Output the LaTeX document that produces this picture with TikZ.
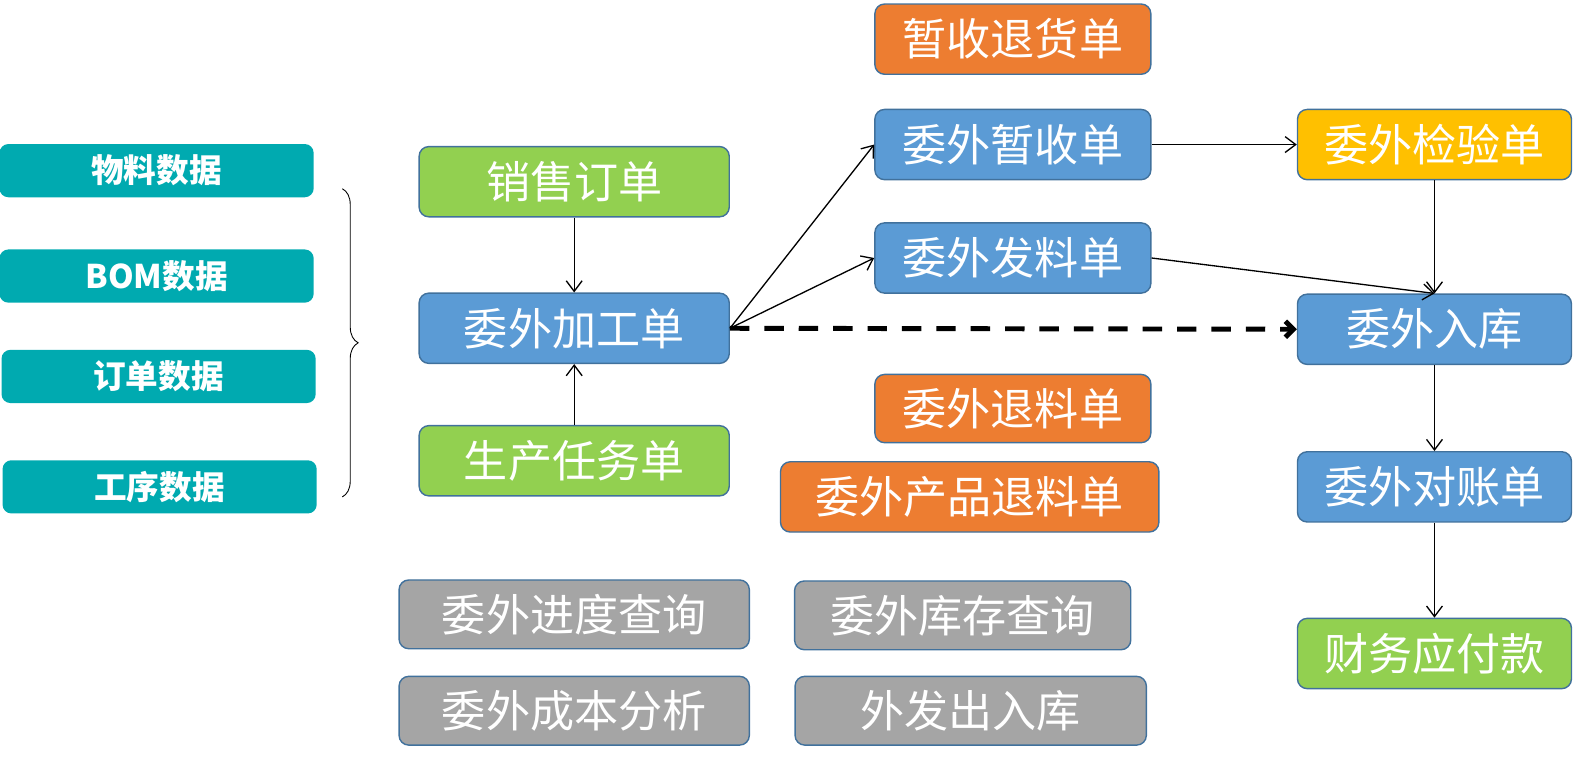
\documentclass[tikz,border=0pt]{standalone}
\usepackage{fontspec}
\setmainfont{Noto Sans CJK SC}
\usepackage{tikz}
\usetikzlibrary{arrows.meta,decorations.pathreplacing}
\definecolor{DatFill}{RGB}{0,170,176}
\definecolor{BluFill}{RGB}{91,155,213}
\definecolor{GrnFill}{RGB}{146,208,80}
\definecolor{OrgFill}{RGB}{237,125,49}
\definecolor{YelFill}{RGB}{255,192,0}
\definecolor{GryFill}{RGB}{165,165,165}
\definecolor{BoxLine}{RGB}{65,113,156}
\tikzset{
  nd_dat/.style={
    rectangle, rounded corners=5pt, fill=DatFill, text=white,
    minimum width=6.26cm, minimum height=1.06cm, inner sep=0pt,
    font=\fontsize{18.5}{20}\selectfont\bfseries},
  nd_box/.style={
    rectangle, rounded corners=5.5pt, draw=BoxLine, line width=0.8pt,
    text=white, minimum height=1.4cm, inner sep=0pt,
    font=\fontsize{25}{28}\selectfont},
  nd_blu/.style={nd_box, fill=BluFill},
  nd_grn/.style={nd_box, fill=GrnFill},
  nd_org/.style={nd_box, fill=OrgFill},
  nd_yel/.style={nd_box, fill=YelFill},
  nd_gry/.style={nd_box, fill=GryFill, minimum height=1.37cm},
  arr/.style={-{Straight Barb[length=6pt,width=9pt]}, line width=0.75pt},
  arr_dash/.style={-{Straight Barb[length=4.5pt,width=9pt]}, line width=2.8pt,
    dash pattern=on 11pt off 8.5pt},
}

\begin{document}
\begin{tikzpicture}[x=0.02cm,y=-0.02cm]
\useasboundingbox (0,0) rectangle (1568,762);

%% data sources
\node[nd_dat] at (156,170) (D1){物料数据};
\node[nd_dat] at (156,275) (D2){BOM数据};
\node[nd_dat] at (158,375) (D3){订单数据};
\node[nd_dat] at (159,485) (D4){工序数据};
\coordinate (BrT) at (341,188);
\coordinate (BrB) at (341,495);
\draw[decorate,decoration={brace,amplitude=9pt},line width=0.5pt] (BrT)--(BrB);

%% source orders
\node[nd_grn, minimum width=6.18cm] at (572,181) (SO){销售订单};
\node[nd_blu, minimum width=6.18cm] at (572,327) (WO){委外加工单};
\node[nd_grn, minimum width=6.18cm] at (572,459) (PT){生产任务单};

%% middle column
\node[nd_org, minimum width=5.5cm]  at (1009,39)  (RT){暂收退货单};
\node[nd_blu, minimum width=5.5cm]  at (1009,144) (ZS){委外暂收单};
\node[nd_blu, minimum width=5.5cm]  at (1009,257) (FL){委外发料单};
\node[nd_org, minimum width=5.5cm, minimum height=1.36cm] at (1009,407) (TL){委外退料单};
\node[nd_org, minimum width=7.54cm] at (966,495)  (CP){委外产品退料单};

%% right column
\node[nd_yel, minimum width=5.46cm] at (1429,144) (JY){委外检验单};
\node[nd_blu, minimum width=5.46cm] at (1429,328) (RK){委外入库};
\node[nd_blu, minimum width=5.46cm] at (1429,485) (DZ){委外对账单};
\node[nd_grn, minimum width=5.46cm] at (1429,651) (YF){财务应付款};

%% queries
\node[nd_gry, minimum width=6.98cm] at (572,612) (Q1){委外进度查询};
\node[nd_gry, minimum width=6.7cm]  at (959,613) (Q2){委外库存查询};
\node[nd_gry, minimum width=6.98cm] at (572,708) (Q3){委外成本分析};
\node[nd_gry, minimum width=7.0cm]  at (967,708) (Q4){外发出入库};

\draw[arr] (SO)--(WO);
\draw[arr] (PT)--(WO);
\draw[arr] (WO.east)--(ZS.west);
\draw[arr] (WO.east)--(FL.west);
\draw[arr_dash] (WO.east)--(RK.west);
\draw[arr] (ZS.east)--(JY.west);
\draw[arr] (FL.east)--(RK.north);
\draw[arr] (JY)--(RK);
\draw[arr] (RK)--(DZ);
\draw[arr] (DZ)--(YF);

\end{tikzpicture}
\end{document}
